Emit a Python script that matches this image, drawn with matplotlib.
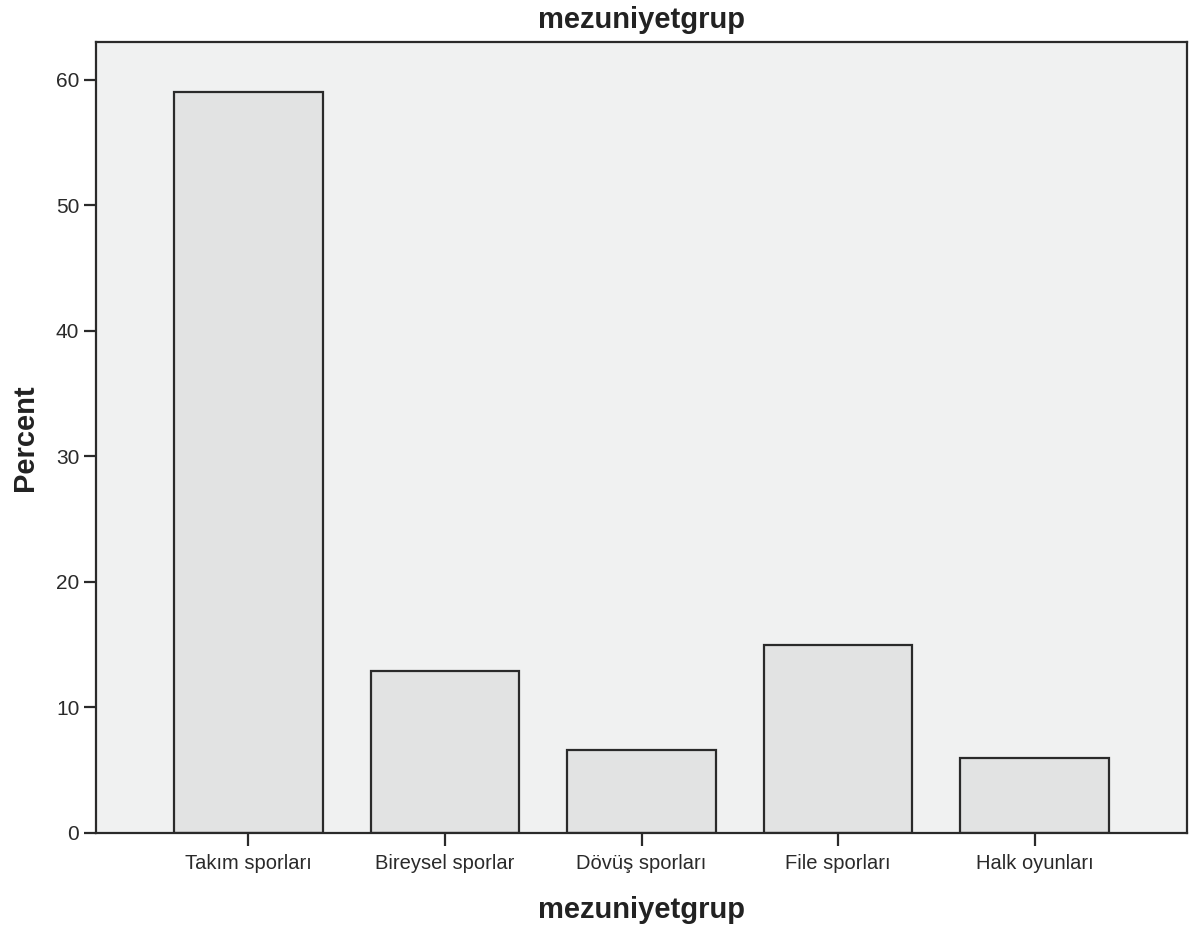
import numpy as np
import matplotlib.pyplot as plt

plt.rcParams['font.family'] = ['Liberation Sans', 'DejaVu Sans']

# Veriler
kategoriler = ['Takım sporları', 'Bireysel sporlar', 'Dövüş sporları', 'File sporları', 'Halk oyunları']
yuzdeler = [59.0, 12.9, 6.6, 15.0, 6.0]
y_ticks = [0, 10, 20, 30, 40, 50, 60]

fig = plt.figure(figsize=(12.02, 9.31), dpi=100)
ax = fig.add_axes([0.0799, 0.1053, 0.9076, 0.8496])
ax.set_facecolor('#f0f1f1')

x = np.arange(len(kategoriler))
ax.bar(x, yuzdeler, width=0.755, color='#e2e3e3', edgecolor='#2a2a2a', linewidth=1.6)

ax.set_xlim(-0.775, 4.775)
ax.set_ylim(0, 63)
ax.set_xticks(x)
ax.set_xticklabels(kategoriler, fontsize=14.5)
ax.set_yticks(y_ticks)
ax.tick_params(axis='y', labelsize=15, length=9, width=1.6, direction='out', colors='#2a2a2a', pad=3)
ax.tick_params(axis='x', length=9, width=1.6, direction='out', colors='#2a2a2a', pad=6)
for s in ax.spines.values():
    s.set_linewidth(1.6)
    s.set_color('#2a2a2a')

ax.set_title('mezuniyetgrup', fontsize=21, fontweight='bold', color='#222222', pad=10)
ax.set_xlabel('mezuniyetgrup', fontsize=21, fontweight='bold', color='#222222', labelpad=17)
ax.set_ylabel('Percent', fontsize=21, fontweight='bold', color='#222222', labelpad=12)

fig.savefig('out.png', dpi=100)
